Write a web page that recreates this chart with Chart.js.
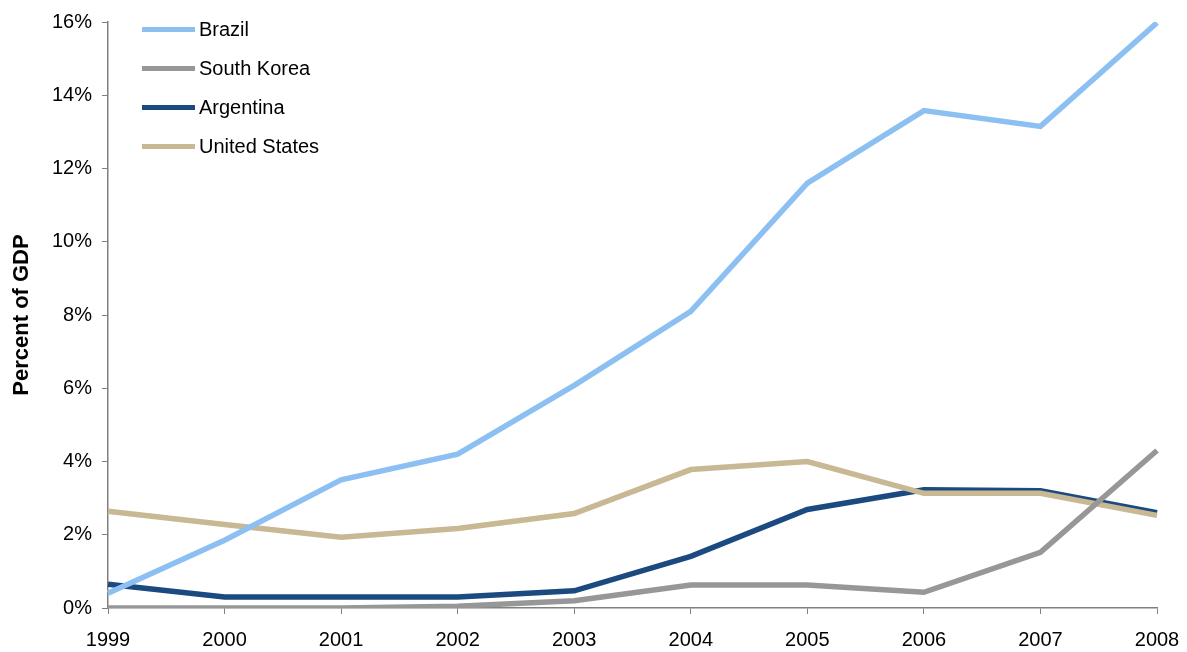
<!DOCTYPE html>
<html>
<head>
<meta charset="utf-8">
<script src="https://cdn.jsdelivr.net/npm/chart.js@4.4.1/dist/chart.umd.min.js"></script>
<style>
  html, body { margin: 0; padding: 0; background: #fff; }
  #wrap { position: relative; width: 1187px; height: 652px; }
  #legend { position: absolute; left: 142px; top: 10px; font-family: "Liberation Sans", Arial, sans-serif; font-size: 20px; color: #000; }
  .row { display: flex; align-items: center; height: 39px; }
  .swatch { width: 53px; height: 5px; margin-right: 4px; }
</style>
</head>
<body>
<div id="wrap">
  <canvas id="chart" width="1187" height="652"></canvas>
  <div id="legend"></div>
</div>
<script>
// values, percent of GDP
const years = ["1999", "2000", "2001", "2002", "2003", "2004", "2005", "2006", "2007", "2008"];
const brazil = [0.4, 1.85, 3.5, 4.2, 6.08, 8.1, 11.6, 13.58, 13.15, 15.98];
const southKorea = [0, 0, 0, 0.05, 0.2, 0.63, 0.63, 0.43, 1.52, 4.3];
const argentina = [0.65, 0.3, 0.3, 0.3, 0.47, 1.41, 2.69, 3.23, 3.2, 2.6];
const unitedStates = [2.64, 2.28, 1.93, 2.17, 2.58, 3.78, 4.0, 3.13, 3.13, 2.53];
const yTicks = [0, 2, 4, 6, 8, 10, 12, 14, 16];

const font = "'Liberation Sans', Arial, sans-serif";

function series(label, data, color, order) {
  return {
    label: label,
    data: data,
    borderColor: color,
    backgroundColor: color,
    borderWidth: 5.5,
    pointRadius: 0,
    tension: 0,
    borderJoinStyle: "miter",
    fill: false,
    order: order,
  };
}

const datasets = [
  series("Brazil", brazil, "#8cbff2", 0),
  series("South Korea", southKorea, "#979797", 1),
  series("Argentina", argentina, "#1b4a80", 3),
  series("United States", unitedStates, "#c8b894", 2),
];

const config = {
  type: "line",
  data: { labels: years, datasets: datasets },
  options: {
    responsive: false,
    animation: false,
    layout: { padding: { left: 0, right: 30, top: 19, bottom: 0 } },
    plugins: {
      legend: { display: false },
      tooltip: { enabled: false },
    },
    scales: {
      x: {
        offset: false,
        afterFit: function (scale) {
          scale.height = 44;
          // layout padding already leaves room for the end labels
          scale.paddingLeft = 0;
          scale.paddingRight = 0;
        },
        grid: { drawOnChartArea: false, drawTicks: true, tickLength: 6, color: "#808080", offset: false },
        border: { display: true, color: "#808080", width: 1.5 },
        ticks: { color: "#000", font: { family: font, size: 20 }, padding: 14, maxRotation: 0, autoSkip: false },
      },
      y: {
        min: 0,
        max: 16,
        afterBuildTicks: function (scale) { scale.ticks = yTicks.map(function (v) { return { value: v }; }); },
        afterFit: function (scale) { scale.width = 108; },
        grid: { drawOnChartArea: false, drawTicks: true, tickLength: 6, color: "#808080" },
        border: { display: true, color: "#808080", width: 1.5 },
        ticks: {
          color: "#000",
          font: { family: font, size: 20 },
          padding: 10,
          callback: function (v) { return v + "%"; },
        },
        title: {
          display: true,
          text: "Percent of GDP",
          color: "#000",
          font: { family: font, size: 22, weight: "bold" },
          padding: { top: 9, bottom: 0 },
        },
      },
    },
  },
};

const chart = new Chart(document.getElementById("chart"), config);

// legend in the top left corner of the plot, same order as the source
const legendDiv = document.getElementById("legend");
datasets.forEach(function (ds) {
  const row = document.createElement("div");
  row.className = "row";
  const sw = document.createElement("div");
  sw.className = "swatch";
  sw.style.background = ds.borderColor;
  const txt = document.createElement("span");
  txt.textContent = ds.label;
  row.appendChild(sw);
  row.appendChild(txt);
  legendDiv.appendChild(row);
});
</script>
</body>
</html>
